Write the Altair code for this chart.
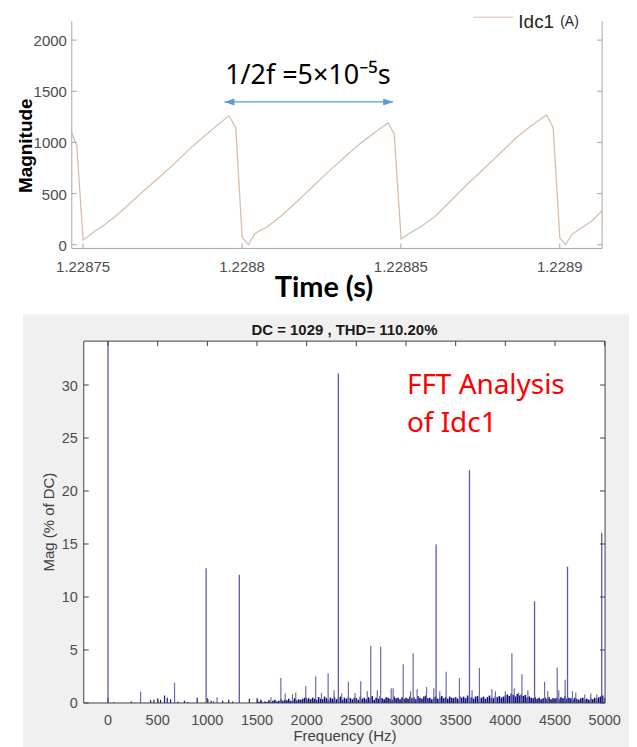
import altair as alt
import pandas as pd

# ---------------- top panel: Idc1 waveform (A) ----------------
time_s = [1.22874645, 1.22874802, 1.22875000, 1.22875107, 1.22875314, 1.22875628,
          1.22875942, 1.22876363, 1.22876884, 1.22877409, 1.22877933, 1.22878455,
          1.22878979, 1.22879592, 1.22879805, 1.22880006, 1.22880204, 1.22880393,
          1.22880550, 1.22880760, 1.22881178, 1.22881702, 1.22882224, 1.22882748,
          1.22883272, 1.22883794, 1.22884319, 1.22884601, 1.22884790, 1.22885009,
          1.22885339, 1.22885678, 1.22886099, 1.22886517, 1.22887041, 1.22887563,
          1.22888088, 1.22888612, 1.22889133, 1.22889586, 1.22889793, 1.22890003,
          1.22890182, 1.22890389, 1.22890704, 1.22891018, 1.22891332]
idc1_a = [1095, 966, 46, 71, 120, 185, 260, 371, 520, 663, 810, 966,
          1105, 1262, 1145, 71, 0, 104, 137, 169, 266, 413, 566, 722,
          868, 1008, 1129, 1193, 1080, 58, 124, 185, 283, 413, 576, 729,
          885, 1041, 1171, 1268, 1144, 65, 0, 104, 169, 234, 332]
top_x_ticks = [1.22875, 1.2288, 1.22885, 1.2289]
top_x_labels = ["1.22875", "1.2288", "1.22885", "1.2289"]
top_y_ticks = [0, 500, 1000, 1500, 2000]
top_y_labels = ["0", "500", "1000", "1500", "2000"]

period_label = ["1/2f =5×10⁻⁵s"]
period_label_t = [1.22882073]
period_label_v = [1571]
arrow_t = [1.2287945, 1.22884758]
arrow_v = [1396, 1396]

# ---------------- bottom panel: FFT of Idc1 ----------------
main_freq = [0, 988, 1322, 2319, 3303, 3639, 4294, 4626, 4970]
main_mag = [100, 12.7, 12.1, 31.1, 14.95, 21.95, 9.6, 12.85, 16.05]

mid_freq = [328, 670, 1098, 1640, 1740, 1784, 1857, 1890, 1991, 2091,
            2149, 2216, 2276, 2353, 2420, 2487, 2544, 2610, 2645, 2711,
            2745, 2851, 2871, 2972, 3046, 3072, 3112, 3207, 3280, 3340,
            3404, 3538, 3665, 3739, 3865, 3900, 4000, 4066, 4090, 4133,
            4167, 4227, 4395, 4427, 4522, 4538, 4602, 4676, 4709, 4799,
            4860, 4920]
mid_mag = [1.05, 1.9, 0.55, 0.55, 2.35, 0.9, 0.85, 1.0, 1.6, 2.5,
           0.95, 2.8, 1.2, 0.9, 2.0, 0.95, 2.05, 1.1, 5.4, 1.2,
           5.3, 1.4, 1.4, 3.65, 1.1, 4.7, 1.3, 1.5, 1.4, 1.1,
           2.95, 2.35, 1.2, 3.3, 1.3, 1.1, 1.1, 4.7, 1.4, 1.0,
           2.7, 1.2, 2.0, 1.1, 3.35, 1.2, 2.2, 1.1, 1.0, 0.8,
           0.9, 0.8]

low_freq = [60, 234, 429, 462, 502, 529, 569, 596, 630, 703, 770,
            803, 898, 1005, 1038, 1064, 1155, 1215, 1255, 1423, 1506, 1540]
low_mag = [0.08, 0.15, 0.25, 0.3, 0.35, 0.3, 0.7, 0.5, 0.35, 0.15, 0.2,
           0.1, 0.5, 0.35, 0.2, 0.15, 0.2, 0.3, 0.15, 0.4, 0.35, 0.3]

floor_freq = list(range(1500, 5000, 20))  # FFT bins of the noise floor
floor_mag = [
    0.05, 0.1, 0.2, 0.05, 0.15, 0.1, 0.25, 0.1, 0.2, 0.3, 0.15, 0.2, 0.35, 0.2, 0.3, 0.25, 0.4, 0.2, 0.3, 0.45, 0.25, 0.35, 0.3, 0.4, 0.5,
    0.3, 0.45, 0.35, 0.5, 0.4, 0.3, 0.55, 0.4, 0.35, 0.6, 0.45, 0.3, 0.5, 0.4, 0.55, 0.35, 0.45, 0.6, 0.3, 0.5, 0.4, 0.55, 0.45, 0.35, 0.5,
    0.45, 0.3, 0.6, 0.4, 0.5, 0.35, 0.55, 0.45, 0.65, 0.3, 0.5, 0.4, 0.6, 0.45, 0.35, 0.55, 0.5, 0.4, 0.3, 0.6, 0.45, 0.5, 0.35, 0.55, 0.4,
    0.5, 0.4, 0.6, 0.45, 0.55, 0.35, 0.65, 0.5, 0.4, 0.6, 0.7, 0.45, 0.5, 0.35, 0.55, 0.6, 0.4, 0.5, 0.65, 0.45, 0.55, 0.4, 0.6, 0.5, 0.45,
    0.55, 0.4, 0.65, 0.5, 0.6, 0.45, 0.7, 0.5, 0.55, 0.4, 0.6, 0.65, 0.45, 0.5, 0.6, 0.4, 0.55, 0.7, 0.5, 0.45, 0.6, 0.55, 0.65, 0.5, 0.6,
    0.7, 0.8, 0.65, 0.9, 0.75, 0.6, 0.85, 0.7, 0.8, 0.65, 0.75, 0.55, 0.6, 0.5, 0.45, 0.55, 0.4, 0.5, 0.35, 0.45, 0.5, 0.4, 0.55, 0.35, 0.45,
    0.4, 0.5, 0.35, 0.55, 0.45, 0.6, 0.4, 0.5, 0.45, 0.35, 0.5, 0.4, 0.3, 0.45, 0.5, 0.35, 0.4, 0.3, 0.45, 0.35, 0.5, 0.4, 0.55, 0.6, 0.7,
]

fft_x_ticks = [0, 500, 1000, 1500, 2000, 2500, 3000, 3500, 4000, 4500, 5000]
fft_x_labels = ["0", "500", "1000", "1500", "2000", "2500", "3000", "3500", "4000", "4500", "5000"]
fft_y_ticks = [0, 5, 10, 15, 20, 25, 30]
fft_y_labels = ["0", "5", "10", "15", "20", "25", "30"]
fft_title = "DC = 1029 , THD= 110.20%"
fft_note = ["FFT Analysis", "of Idc1"]
fft_note_f = [3009, 3009]
fft_note_m = [29.16, 25.52]

# ---------------- styles ----------------
TOP_W, TOP_H = 520, 228        # view spans page x 84..604; x range starts 12px left of it
BOT_W, BOT_H = 523, 363
WAVE_COLOR = "#d8bfac"
ARROW_COLOR = "#5b9bd5"
LIGHT_AX = "#a6a6a6"
DARK_AX = "#404040"
LAB = "#4d4d4d"
LF = "Liberation Sans"
TICK = 5

one = pd.DataFrame({"k": [0]})


def hrule(x1, x2, y, color):
    return alt.Chart(one).mark_rule(color=color, strokeWidth=1).encode(
        x=alt.value(x1), x2=alt.value(x2), y=alt.value(y))


def vrule(x, y1, y2, color):
    return alt.Chart(one).mark_rule(color=color, strokeWidth=1).encode(
        x=alt.value(x), y=alt.value(y1), y2=alt.value(y2))


def label(text, x, y, size, color, weight="normal", font=LF, angle=0, align="center"):
    kw = dict(text=text, font=font, fontSize=size, fontWeight=weight, color=color,
              align=align, baseline="alphabetic")
    if angle:
        kw["angle"] = angle
    return alt.Chart(one).mark_text(**kw).encode(x=alt.value(x), y=alt.value(y))


# ================= top chart =================
xs_top = alt.Scale(domain=[1.22874645, 1.22891332], range=[-12, TOP_W], nice=False, zero=False)
ys_top = alt.Scale(domain=[-36, 2185], nice=False, zero=False)
wave = pd.DataFrame({"t": time_s, "v": idc1_a})
X_TOP = dict(scale=xs_top, axis=None)
Y_TOP = dict(scale=ys_top, axis=None)

wave_line = alt.Chart(wave).mark_line(color=WAVE_COLOR, strokeWidth=1.3).encode(
    x=alt.X("t:Q", **X_TOP), y=alt.Y("v:Q", **Y_TOP))

ty_df = pd.DataFrame({"v": top_y_ticks, "lab": top_y_labels})
tx_df = pd.DataFrame({"t": top_x_ticks, "lab": top_x_labels})
top_ticks = [
    alt.Chart(ty_df).mark_rule(color=LIGHT_AX).encode(
        y=alt.Y("v:Q", **Y_TOP), x=alt.value(-12), x2=alt.value(-12 + TICK)),
    alt.Chart(ty_df).mark_rule(color=LIGHT_AX).encode(
        y=alt.Y("v:Q", **Y_TOP), x=alt.value(TOP_W - TICK), x2=alt.value(TOP_W)),
    alt.Chart(tx_df).mark_rule(color=LIGHT_AX).encode(
        x=alt.X("t:Q", **X_TOP), y=alt.value(TOP_H - TICK), y2=alt.value(TOP_H)),
]
top_labels = [
    alt.Chart(ty_df).mark_text(font=LF, fontSize=15, color=LAB, align="right",
                               baseline="alphabetic", dy=6).encode(
        y=alt.Y("v:Q", **Y_TOP), x=alt.value(-17), text="lab:N"),
    alt.Chart(tx_df).mark_text(font=LF, fontSize=15, color=LAB, align="center",
                               baseline="alphabetic").encode(
        x=alt.X("t:Q", **X_TOP), y=alt.value(251.7), text="lab:N"),
    label("Magnitude", -52, 125, 19, "black", weight="bold", angle=270),
    label("Time (s)", 241, 277, 29, "black", weight="bold", font="Lato"),
]

arrow_df = pd.DataFrame({"t": arrow_t, "v": arrow_v})
arrow_line = alt.Chart(arrow_df).mark_line(color=ARROW_COLOR, strokeWidth=1.3).encode(
    x=alt.X("t:Q", **X_TOP), y=alt.Y("v:Q", **Y_TOP))
head_l = alt.Chart(arrow_df.iloc[[0]]).mark_point(
    shape="M0,0L1,-0.35L1,0.35Z", filled=True, size=400, color=ARROW_COLOR, opacity=1
).encode(x=alt.X("t:Q", **X_TOP), y=alt.Y("v:Q", **Y_TOP))
head_r = alt.Chart(arrow_df.iloc[[1]]).mark_point(
    shape="M0,0L-1,-0.35L-1,0.35Z", filled=True, size=400, color=ARROW_COLOR, opacity=1
).encode(x=alt.X("t:Q", **X_TOP), y=alt.Y("v:Q", **Y_TOP))

period_df = pd.DataFrame({"t": period_label_t, "v": period_label_v, "label": period_label})
period_text = alt.Chart(period_df).mark_text(
    font="Noto Sans", fontSize=27, color="black", align="center", baseline="alphabetic"
).encode(x=alt.X("t:Q", **X_TOP), y=alt.Y("v:Q", **Y_TOP), text="label:N")

legend = [
    hrule(391, 431, -4, WAVE_COLOR),
    label("Idc1", 436, 6.5, 19, "#262626", align="left"),
    label("(A)", 478, 5, 14, "#262626", align="left"),
]

top = alt.layer(
    wave_line,
    vrule(-12, 0, TOP_H, LIGHT_AX), vrule(TOP_W, 0, TOP_H, LIGHT_AX),
    hrule(-12, TOP_W, TOP_H, LIGHT_AX),
    *top_ticks, *top_labels,
    arrow_line, head_l, head_r, period_text,
    *legend,
).properties(width=TOP_W, height=TOP_H)

# ================= bottom chart =================
xs_bot = alt.Scale(domain=[-244, 5004], nice=False, zero=False)
ys_bot = alt.Scale(domain=[0, 34.14], nice=False, zero=False)
X_BOT = dict(scale=xs_bot, axis=None)
Y_BOT = dict(scale=ys_bot, axis=None)

bg = alt.Chart(one).mark_rect(color="#f0f0f0").encode(
    x=alt.value(-61), x2=alt.value(547), y=alt.value(-27), y2=alt.value(420))
plot_bg = alt.Chart(one).mark_rect(color="white").encode(
    x=alt.value(0), x2=alt.value(BOT_W), y=alt.value(0), y2=alt.value(BOT_H))


def rules(freq, mag, color, width):
    df = pd.DataFrame({"f": freq, "m": mag})
    return alt.Chart(df).mark_rule(color=color, strokeWidth=width, clip=True).encode(
        x=alt.X("f:Q", **X_BOT), y=alt.Y("m:Q", **Y_BOT), y2=alt.datum(0))


floor_l = rules(floor_freq, floor_mag, "#0c0c80", 1.6)
low_l = rules(low_freq, low_mag, "#1a1a85", 1.2)
mid_l = rules(mid_freq, mid_mag, "#6a6aae", 1.2)
main_l = rules(main_freq, main_mag, "#5c5ca8", 1.3)

by_df = pd.DataFrame({"m": fft_y_ticks, "lab": fft_y_labels})
bx_df = pd.DataFrame({"f": fft_x_ticks, "lab": fft_x_labels})
bot_ticks = [
    alt.Chart(by_df).mark_rule(color=DARK_AX).encode(
        y=alt.Y("m:Q", **Y_BOT), x=alt.value(0), x2=alt.value(TICK)),
    alt.Chart(by_df).mark_rule(color=DARK_AX).encode(
        y=alt.Y("m:Q", **Y_BOT), x=alt.value(BOT_W - TICK), x2=alt.value(BOT_W)),
    alt.Chart(bx_df).mark_rule(color=DARK_AX).encode(
        x=alt.X("f:Q", **X_BOT), y=alt.value(BOT_H - TICK), y2=alt.value(BOT_H)),
    alt.Chart(bx_df).mark_rule(color=DARK_AX).encode(
        x=alt.X("f:Q", **X_BOT), y=alt.value(0), y2=alt.value(TICK)),
]
frame = [
    vrule(0, 0, BOT_H, DARK_AX), vrule(BOT_W, 0, BOT_H, DARK_AX),
    hrule(0, BOT_W, 0, DARK_AX), hrule(0, BOT_W, BOT_H, DARK_AX),
]
bot_labels = [
    alt.Chart(by_df).mark_text(font=LF, fontSize=14.5, color=LAB, align="right",
                               baseline="alphabetic", dy=5.5).encode(
        y=alt.Y("m:Q", **Y_BOT), x=alt.value(-6), text="lab:N"),
    alt.Chart(bx_df).mark_text(font=LF, fontSize=14.5, color=LAB, align="center",
                               baseline="alphabetic").encode(
        x=alt.X("f:Q", **X_BOT), y=alt.value(385.5), text="lab:N"),
    label("Mag (% of DC)", -30, 181.5, 15, DARK_AX, angle=270),
    label("Frequency (Hz)", 262, 401, 15, DARK_AX),
    label(fft_title, 261.5, -6, 15, "#1a1a1a", weight="bold"),
]

note_df = pd.DataFrame({"f": fft_note_f, "m": fft_note_m, "label": fft_note})
note = alt.Chart(note_df).mark_text(
    font="Noto Sans", fontSize=28, color="#ff0000", align="left", baseline="alphabetic"
).encode(x=alt.X("f:Q", **X_BOT), y=alt.Y("m:Q", **Y_BOT), text="label:N")

bottom = alt.layer(
    bg, plot_bg, floor_l, low_l, mid_l, main_l, *bot_ticks, *frame, *bot_labels, note
).properties(width=BOT_W, height=BOT_H)

chart = alt.vconcat(top, bottom, spacing=11).properties(
    padding={"left": 9, "top": 3, "right": 0, "bottom": 0},
    background="white",
).configure_view(stroke=None)

chart.save("out.html", embed_options={"renderer": "svg", "actions": False})
